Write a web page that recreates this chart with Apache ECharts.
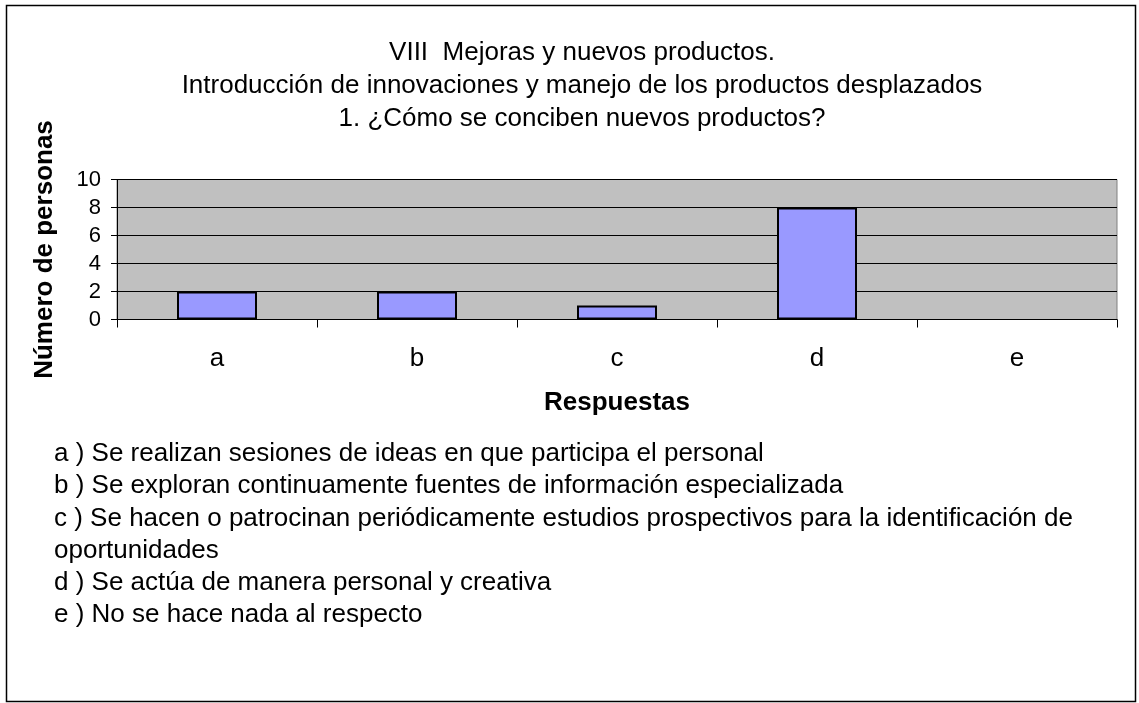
<!DOCTYPE html>
<html>
<head>
<meta charset="utf-8">
<script src="https://cdn.jsdelivr.net/npm/echarts@6/dist/echarts.min.js"></script>
<style>
  html, body { margin: 0; padding: 0; background: #ffffff; }
  #chart { width: 1139px; height: 703px; }
</style>
</head>
<body>
<div id="chart"></div>
<script>
// Survey answers for question VIII.1
const categories = ['a', 'b', 'c', 'd', 'e'];
const personas = [2, 2, 1, 8, 0];
const yTicks = { min: 0, max: 10, interval: 2 };

const titleLines = [
  'VIII  Mejoras y nuevos productos.',
  'Introducción de innovaciones y manejo de los productos desplazados',
  '1. ¿Cómo se conciben nuevos productos?'
];

const answerNotes = [
  'a ) Se realizan sesiones de ideas en que participa el personal',
  'b ) Se exploran continuamente fuentes de información especializada',
  'c ) Se hacen o patrocinan periódicamente estudios prospectivos para la identificación de',
  'oportunidades',
  'd ) Se actúa de manera personal y creativa',
  'e ) No se hace nada al respecto'
];

const FONT = 'Liberation Sans, Arial, Helvetica, sans-serif';
const chart = echarts.init(document.getElementById('chart'), null, { renderer: 'canvas' });

const graphics = [
  {
    type: 'rect',
    shape: { x: 6.5, y: 5.5, width: 1129, height: 696 },
    style: { fill: 'none', stroke: '#000000', lineWidth: 1.5 },
    z: 0
  }
];

titleLines.forEach(function (line, i) {
  graphics.push({
    type: 'text',
    x: 582,
    y: 53 + i * 33,
    style: {
      text: line,
      font: '26px ' + FONT,
      fill: '#000000',
      textAlign: 'center',
      textVerticalAlign: 'middle'
    }
  });
});

answerNotes.forEach(function (line, i) {
  graphics.push({
    type: 'text',
    x: 54,
    y: 454 + i * 32.2,
    style: {
      text: line,
      font: '26px ' + FONT,
      fill: '#000000',
      textAlign: 'left',
      textVerticalAlign: 'middle'
    }
  });
});

// An empty answer draws no outline, as a zero-height column
const barData = personas.map(function (v) {
  return v === 0 ? { value: v, itemStyle: { borderWidth: 0 } } : v;
});

chart.setOption({
  animation: false,
  backgroundColor: '#ffffff',
  graphic: graphics,
  grid: {
    left: 117,
    right: 22,
    top: 179.5,
    height: 140,
    show: true,
    backgroundColor: '#c0c0c0',
    borderColor: '#808080',
    borderWidth: 1
  },
  xAxis: {
    type: 'category',
    data: categories,
    name: 'Respuestas',
    nameLocation: 'middle',
    nameGap: 70,
    nameTextStyle: { fontFamily: FONT, fontSize: 26, fontWeight: 'bold', color: '#000' },
    axisLine: { show: true, lineStyle: { color: '#000000', width: 1 } },
    axisTick: { show: true, alignWithLabel: false, length: 8, lineStyle: { color: '#000000' } },
    axisLabel: { fontFamily: FONT, fontSize: 26, color: '#000', margin: 26 },
    splitLine: { show: false }
  },
  yAxis: {
    type: 'value',
    min: yTicks.min,
    max: yTicks.max,
    interval: yTicks.interval,
    name: 'Número de personas',
    nameLocation: 'middle',
    nameRotate: 90,
    nameGap: 59,
    nameTextStyle: { fontFamily: FONT, fontSize: 26, fontWeight: 'bold', color: '#000' },
    axisLine: { show: true, lineStyle: { color: '#000000', width: 1 } },
    axisTick: { show: true, length: 6, lineStyle: { color: '#000000' } },
    axisLabel: { fontFamily: FONT, fontSize: 22, color: '#000', margin: 16 },
    splitLine: { show: true, lineStyle: { color: '#000000', width: 1 } }
  },
  series: [
    {
      type: 'bar',
      data: barData,
      barWidth: '40%',
      itemStyle: { color: '#9999ff', borderColor: '#000000', borderWidth: 2 },
      silent: true
    }
  ]
});
</script>
</body>
</html>
